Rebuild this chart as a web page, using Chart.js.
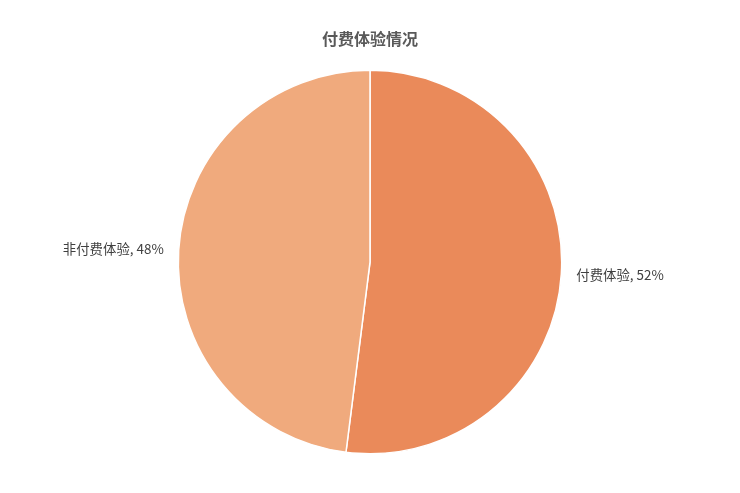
<!DOCTYPE html>
<html>
<head>
<meta charset="utf-8">
<script src="https://cdn.jsdelivr.net/npm/chart.js@4"></script>
<style>
html,body{margin:0;padding:0;background:#fff;}
#wrap{width:740px;height:493px;position:relative;}
</style>
</head>
<body>
<div id="wrap"><canvas id="c"></canvas></div>
<script>
const titleText = "付费体验情况";
const categories = ["付费体验", "非付费体验"];
const values = [52, 48];
const colors = ["#EA8A5A", "#F0AA7D"];

const labelPlugin = {
  id: 'outLabels',
  afterDatasetsDraw(chart) {
    const ctx = chart.ctx;
    const meta = chart.getDatasetMeta(0);
    const total = values.reduce((a, b) => a + b, 0);
    ctx.save();
    ctx.font = '13.4px "Noto Sans CJK SC", "Noto Sans", sans-serif';
    ctx.fillStyle = '#404040';
    ctx.textBaseline = 'middle';
    meta.data.forEach((arc, i) => {
      const p = arc.getProps(['x', 'y', 'startAngle', 'endAngle', 'outerRadius'], true);
      const mid = (p.startAngle + p.endAngle) / 2;
      const r = p.outerRadius + 15;
      const x = p.x + Math.cos(mid) * r;
      const y = p.y + Math.sin(mid) * r;
      ctx.textAlign = Math.cos(mid) >= 0 ? 'left' : 'right';
      const pct = Math.round(values[i] / total * 100);
      ctx.fillText(categories[i] + ', ' + pct + '%', x, y);
    });
    ctx.restore();
  }
};

new Chart(document.getElementById('c'), {
  type: 'pie',
  data: {
    labels: categories,
    datasets: [{
      data: values,
      backgroundColor: colors,
      borderColor: '#ffffff',
      borderWidth: 1.5
    }]
  },
  options: {
    responsive: true,
    maintainAspectRatio: false,
    animation: false,
    layout: { padding: { top: 0, bottom: 38.5, left: 0, right: 0 } },
    plugins: {
      legend: { display: false },
      tooltip: { enabled: false },
      title: {
        display: true,
        text: titleText,
        color: '#595959',
        font: { family: '"Noto Sans CJK SC", "Noto Sans", sans-serif', size: 16, weight: 'bold', lineHeight: 1.2 },
        padding: { top: 29.4, bottom: 21 }
      }
    }
  },
  plugins: [labelPlugin]
});
</script>
</body>
</html>
